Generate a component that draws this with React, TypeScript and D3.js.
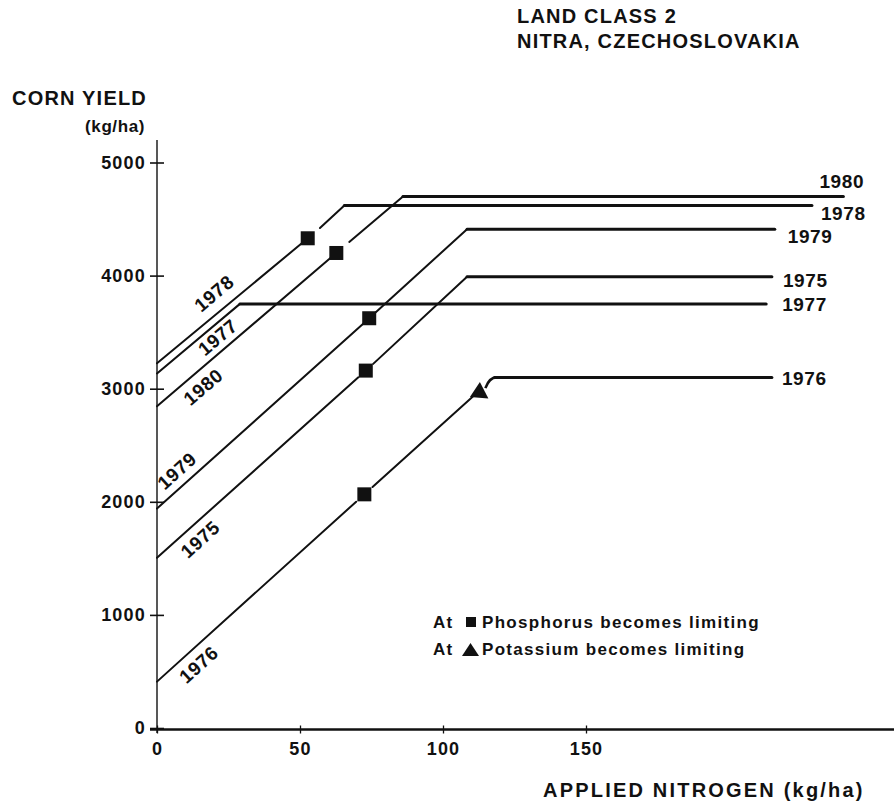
import React, { useEffect, useRef } from "react";
import * as d3 from "d3";

// corn yield response to applied nitrogen, land class 2, Nitra
const years = ["1975", "1976", "1977", "1978", "1979", "1980"];
const yieldAtZeroN = [1505, 410, 3135, 3225, 1940, 2845];
const plateauStartN = [108.4, 118, 29, 65.5, 108.4, 86];
const plateauYield = [3990, 3100, 3750, 4620, 4410, 4700];
const plateauEndN = [215, 215, 213, 229, 216, 240];
// where phosphorus becomes limiting (null = not shown)
const phosphorusN = [73, 72.5, null, 52.7, 74.2, 62.7];
const phosphorusYield = [3160, 2066, null, 4330, 3623, 4200];
// where potassium becomes limiting (1976 only)
const potassiumYear = "1976";
const potassiumN = 112.2;
const potassiumYield = 2970;

const yTicks = [0, 1000, 2000, 3000, 4000, 5000];
const xTicks = [0, 50, 100, 150];

// label placement along the sloping lines: kg N position and baseline offset (px, + = below)
const slopeLabelN = [11.5, 11, 18.7, 23.7, 10.4, 12.7];
const slopeLabelOffset = [22, 22, 18, -10, -8, 22];
// end labels offsets in px
const endLabelDx = [11, 10, 16, 9, 13, -24];
const endLabelDy = [10, 8, 7, 15, 14, -8];
// gaps in the line around the phosphorus marker, px
const gapBefore = [10, 11, 0, 7, 7, 7];
const gapAfter = [10, 11, 0, 16, 7, 17];

const FONT = "'Liberation Sans', Arial, Helvetica, sans-serif";

export default function App() {
  const ref = useRef<SVGSVGElement>(null);

  useEffect(() => {
    const svg = d3.select(ref.current);
    svg.selectAll("*").remove();

    const x = d3.scaleLinear().domain([0, 150]).range([157, 586]);
    const y = d3.scaleLinear().domain([0, 5000]).range([728, 162.5]);
    const x0 = x(0);
    const yAxisY = 729.5;

    const g = svg
      .append("g")
      .style("font-family", FONT)
      .style("font-weight", "bold")
      .attr("fill", "#111");

    // titles
    g.append("text")
      .attr("x", 517)
      .attr("y", 23)
      .style("font-size", "20px")
      .style("letter-spacing", "1.2px")
      .text("LAND CLASS 2");
    g.append("text")
      .attr("x", 517)
      .attr("y", 48)
      .style("font-size", "20px")
      .style("letter-spacing", "1.2px")
      .text("NITRA, CZECHOSLOVAKIA");

    g.append("text")
      .attr("x", 12)
      .attr("y", 105)
      .style("font-size", "20px")
      .style("letter-spacing", "1.2px")
      .text("CORN YIELD");
    g.append("text")
      .attr("x", 145)
      .attr("y", 132)
      .attr("text-anchor", "end")
      .style("font-size", "17px")
      .style("letter-spacing", "0.6px")
      .text("(kg/ha)");

    g.append("text")
      .attr("x", 543)
      .attr("y", 797)
      .style("font-size", "20px")
      .style("letter-spacing", "2.2px")
      .text("APPLIED NITROGEN (kg/ha)");

    // y axis
    const yAxis = g
      .append("g")
      .attr("transform", `translate(${x0},0)`)
      .call(
        d3
          .axisLeft(y)
          .tickValues(yTicks)
          .tickSizeInner(7)
          .tickSizeOuter(0)
          .tickFormat(d3.format("d"))
      );
    yAxis.select(".domain").remove();
    yAxis
      .selectAll(".tick line")
      .attr("x1", -7)
      .attr("x2", 7)
      .attr("stroke", "#111")
      .attr("stroke-width", 1.6);
    yAxis
      .selectAll(".tick text")
      .attr("x", -11)
      .attr("fill", "#111")
      .style("font-family", FONT)
      .style("font-size", "18px")
      .style("font-weight", "bold")
      .style("letter-spacing", "1.2px");
    g.append("line")
      .attr("x1", x0)
      .attr("x2", x0)
      .attr("y1", 140)
      .attr("y2", 733)
      .attr("stroke", "#111")
      .attr("stroke-width", 1.4);

    // x axis
    const xAxis = g
      .append("g")
      .attr("transform", `translate(0,${yAxisY})`)
      .call(
        d3
          .axisBottom(x)
          .tickValues(xTicks)
          .tickSizeInner(4)
          .tickSizeOuter(0)
          .tickFormat(d3.format("d"))
      );
    xAxis.select(".domain").remove();
    xAxis
      .selectAll(".tick line")
      .attr("y1", -4)
      .attr("y2", 4)
      .attr("stroke", "#111")
      .attr("stroke-width", 1.3);
    xAxis
      .selectAll(".tick text")
      .attr("y", 25.5)
      .attr("dy", 0)
      .attr("fill", "#111")
      .style("font-family", FONT)
      .style("font-size", "18px")
      .style("font-weight", "bold")
      .style("letter-spacing", "1.2px");
    g.append("line")
      .attr("x1", 150)
      .attr("x2", 894)
      .attr("y1", yAxisY)
      .attr("y2", yAxisY)
      .attr("stroke", "#111")
      .attr("stroke-width", 2.4);

    const lines = g.append("g").attr("stroke", "#111").attr("fill", "none");
    const marks = g.append("g").attr("fill", "#111");
    const seg = (a: number[], b: number[], w: number) =>
      lines
        .append("line")
        .attr("x1", a[0])
        .attr("y1", a[1])
        .attr("x2", b[0])
        .attr("y2", b[1])
        .attr("stroke-width", w)
        .attr("stroke-linecap", "round");

    years.forEach((yr, i) => {
      const p0 = [x(0), y(yieldAtZeroN[i])];
      const isK = yr === potassiumYear;
      const knee = isK
        ? [x(potassiumN), y(potassiumYield)]
        : [x(plateauStartN[i]), y(plateauYield[i])];
      const dx = knee[0] - p0[0];
      const dy = knee[1] - p0[1];
      const len = Math.hypot(dx, dy);
      const u = [dx / len, dy / len];

      const pn = phosphorusN[i];
      const pyv = phosphorusYield[i];
      if (pn != null && pyv != null) {
        const pm = [x(pn), y(pyv)];
        seg(p0, [pm[0] - u[0] * gapBefore[i], pm[1] - u[1] * gapBefore[i]], 2);
        seg([pm[0] + u[0] * gapAfter[i], pm[1] + u[1] * gapAfter[i]], knee, 2);
        marks
          .append("rect")
          .attr("x", pm[0] - 7)
          .attr("y", pm[1] - 7)
          .attr("width", 14)
          .attr("height", 14);
      } else {
        seg(p0, knee, 2);
      }

      const yp = y(plateauYield[i]);
      const ps = [x(plateauStartN[i]), yp];
      if (isK) {
        const cx = knee[0] + 1.5;
        const cy = knee[1];
        marks
          .append("path")
          .attr(
            "d",
            `M${cx - 9.5},${cy + 5} L${cx + 9},${cy + 6.5} L${cx + 0.5},${cy - 10}Z`
          );
        const p = d3.path();
        p.moveTo(cx + 6, cy - 4);
        p.quadraticCurveTo(cx + 10, yp, ps[0] + 2, yp);
        lines
          .append("path")
          .attr("d", p.toString())
          .attr("stroke-width", 2.6);
      }
      seg(ps, [x(plateauEndN[i]), yp], 3);

      // label along the slope
      const ang = (Math.atan2(dy, dx) * 180) / Math.PI;
      const ln = slopeLabelN[i];
      const lp = [x(ln), p0[1] + (dy / dx) * (x(ln) - p0[0])];
      g.append("text")
        .attr("transform", `translate(${lp[0]},${lp[1]}) rotate(${ang})`)
        .attr("text-anchor", "middle")
        .attr("y", slopeLabelOffset[i])
        .style("font-size", "19px")
        .style("letter-spacing", "0.6px")
        .text(yr);

      // end label
      g.append("text")
        .attr("x", x(plateauEndN[i]) + endLabelDx[i])
        .attr("y", yp + endLabelDy[i])
        .style("font-size", "19px")
        .style("letter-spacing", "0.6px")
        .text(yr);
    });

    // legend
    const leg = g.append("g").style("font-size", "17px").style("letter-spacing", "1.3px");
    leg.append("text").attr("x", 433).attr("y", 628).text("At");
    leg.append("rect").attr("x", 466).attr("y", 617).attr("width", 10).attr("height", 10);
    leg.append("text").attr("x", 482).attr("y", 628).text("Phosphorus becomes limiting");
    leg.append("text").attr("x", 433).attr("y", 655).text("At");
    leg.append("path").attr("d", "M462,656 L479,656 L470.5,643Z");
    leg.append("text").attr("x", 482).attr("y", 655).text("Potassium becomes limiting");
  }, []);

  return (
    <svg
      ref={ref}
      width={894}
      height={803}
      style={{ position: "absolute", left: 0, top: 0, background: "#fff" }}
    />
  );
}
